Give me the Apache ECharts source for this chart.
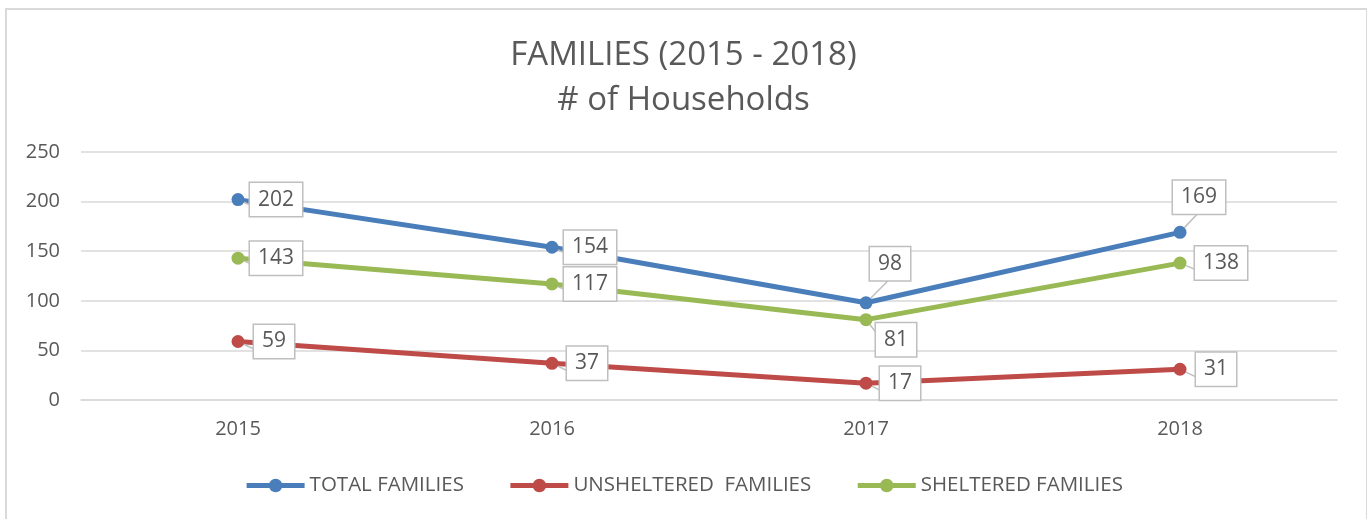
<!DOCTYPE html>
<html>
<head>
<meta charset="utf-8">
<title>Families</title>
<script src="https://cdn.jsdelivr.net/npm/echarts@6/dist/echarts.min.js"></script>
<style>
html,body{margin:0;padding:0;background:#fff;overflow:hidden;}
#frame{position:absolute;left:5px;top:8px;width:1359px;height:530px;border:2px solid #d9d9d9;}
#main{position:absolute;left:0;top:0;width:1367px;height:519px;}
</style>
</head>
<body>
<div id="frame"></div>
<div id="main"></div>
<script type="text/javascript">
var years = ['2015', '2016', '2017', '2018'];
var totalFamilies = [202, 154, 98, 169];
var unshelteredFamilies = [59, 37, 17, 31];
var shelteredFamilies = [143, 117, 81, 138];

// label offsets per point (callout boxes)
var totalOff = [[38, 0], [38, 0], [24, -39], [19, -35]];
var unshOff = [[36, 0], [35, 0], [34, 0], [36, 0]];
var shelOff = [[38, 0], [38, 0], [30, 20], [41, 0]];

var txt = '#595959';
var font = '"Open Sans", "Noto Sans", sans-serif';

function withLabels(values, offs) {
    return values.map(function (v, i) {
        return {value: v, label: {offset: offs[i]}};
    });
}

var labelStyle = {
    show: true,
    position: 'inside',
    color: txt,
    fontSize: 21,
    fontFamily: font,
    backgroundColor: '#fff',
    borderColor: '#bfbfbf',
    borderWidth: 1.5,
    padding: [7, 8, 5, 8]
};

function makeSeries(name, color, values, offs) {
    return {
        name: name,
        type: 'line',
        data: withLabels(values, offs),
        symbol: 'circle',
        symbolSize: 13,
        lineStyle: {width: 5, color: color},
        itemStyle: {color: color},
        label: labelStyle,
        labelLine: {show: true, lineStyle: {color: '#bfbfbf', width: 1.5}},
        emphasis: {disabled: true},
        z: 3
    };
}

var myChart = echarts.init(document.getElementById('main'));
myChart.setOption({
    animation: false,
    textStyle: {fontFamily: font},
    title: {
        text: 'FAMILIES (2015 - 2018)\n# of Households',
        left: 'center',
        top: 28,
        textStyle: {color: txt, fontSize: 33, fontWeight: 'normal', lineHeight: 45, fontFamily: font}
    },
    legend: {
        bottom: 18,
        left: 'center',
        itemWidth: 58,
        itemHeight: 17,
        itemGap: 44,
        lineStyle: {width: 5},
        textStyle: {color: txt, fontSize: 20.5, fontFamily: font},
        data: ['TOTAL FAMILIES', 'UNSHELTERED  FAMILIES', 'SHELTERED FAMILIES']
    },
    grid: {left: 81, right: 30, top: 152, bottom: 119},
    xAxis: {
        type: 'category',
        data: years,
        boundaryGap: true,
        axisLine: {lineStyle: {color: '#d9d9d9', width: 1.5}},
        axisTick: {show: false},
        axisLabel: {color: txt, fontSize: 20, margin: 19, fontFamily: font}
    },
    yAxis: {
        type: 'value',
        min: 0,
        max: 250,
        interval: 50,
        axisLine: {show: false},
        axisTick: {show: false},
        axisLabel: {color: txt, fontSize: 20, margin: 21, fontFamily: font},
        splitLine: {lineStyle: {color: '#d9d9d9', width: 1.5}}
    },
    series: [
        makeSeries('TOTAL FAMILIES', '#4a7ebb', totalFamilies, totalOff),
        makeSeries('UNSHELTERED  FAMILIES', '#be4b48', unshelteredFamilies, unshOff),
        makeSeries('SHELTERED FAMILIES', '#98b954', shelteredFamilies, shelOff)
    ]
});
</script>
</body>
</html>
